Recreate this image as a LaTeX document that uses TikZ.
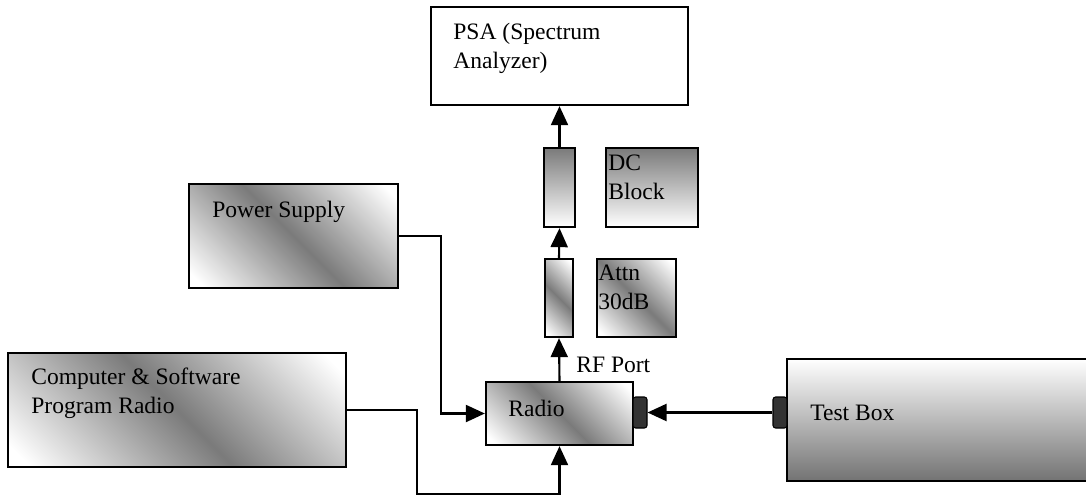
\documentclass[tikz,border=0pt]{standalone}
\usepackage{fontspec}
\setmainfont{Liberation Serif}
\usetikzlibrary{arrows.meta,fit}

\pgfdeclarehorizontalshading{metal}{100bp}{color(0bp)=(white); color(18bp)=(white); color(50bp)=(black!52); color(82bp)=(white); color(100bp)=(white)}

\tikzset{
    box/.style={draw=black, line width=1.3pt, inner sep=0pt},
    metalbox/.style={box, shading=metal, shading angle=45},
    fadedown/.style={box, top color=black!52, bottom color=white},
    fadeup/.style={box, top color=white, bottom color=black!55},
    plug/.style={draw=black, fill=black!80, rounded corners=1.5pt, line width=0.6pt, inner sep=0pt},
    lbl/.style={anchor=base west, inner sep=0pt, align=left, font=\fontsize{13.4}{16}\selectfont},
    arr/.style={line width=1.2pt, -{Triangle[length=0.38cm,width=0.34cm]}}
}

\begin{document}
\begin{tikzpicture}[x=0.02cm, y=-0.02cm]
    \useasboundingbox (0,0) rectangle (1086,495);

    % boxes
    \node[box, fit={(431,7) (688,105)}] (psa) {};
    \node[metalbox, fit={(189,184) (398,288)}] (psu) {};
    \node[metalbox, fit={(8,353) (346,467)}] (comp) {};
    \node[fadedown, fit={(544,148) (575,227)}] (dcb) {};
    \node[fadedown, fit={(606,148) (698,227)}] (dcblabel) {};
    \node[metalbox, fit={(545,259) (573,337)}] (attn) {};
    \node[metalbox, fit={(597,259) (676,337)}] (attnlabel) {};
    \node[metalbox, fit={(486,382) (633,445)}] (radio) {};
    \node[fadeup, fit={(787,359) (1092,481)}] (testbox) {};
    \node[plug, fit={(633,397) (647,428)}] (radioport) {};
    \node[plug, fit={(773,397) (787,428)}] (testport) {};

    % texts (base = last line)
    \node[lbl] (psatext) at (453,68) {PSA (Spectrum\\Analyzer)};
    \node[lbl] (psutext) at (212,217) {Power Supply};
    \node[lbl] (comptext) at (31,413) {Computer \& Software\\Program Radio};
    \node[lbl] (dcbtext) at (608,199) {DC\\Block};
    \node[lbl] (attntext) at (598,309) {Attn\\30dB};
    \node[lbl] (rftext) at (576,372) {RF Port};
    \node[lbl] (radiotext) at (508,416) {Radio};
    \node[lbl] (testtext) at (810,420) {Test Box};

    % connections
    \draw[arr] (psu.east) -| ([xshift=-0.88cm]radio.west) -- (radio.west);
    \draw[arr] (comp.east) -- ++(70,0) |- ([yshift=-0.96cm]radio.south) -- (radio.south);
    \draw[arr] (radio.north) -- (attn.south);
    \draw[arr] (attn.north) -- (dcb.south);
    \draw[arr] (dcb.north) -- (psa.south);
    \draw[arr] (testport.west) -- (radioport.east);
\end{tikzpicture}
\end{document}
